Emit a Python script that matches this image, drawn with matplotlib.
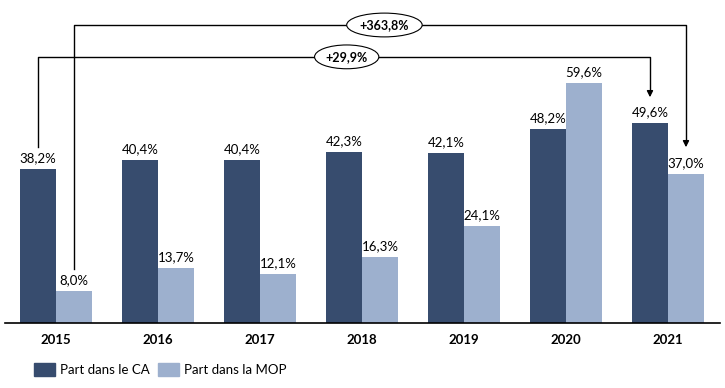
import matplotlib.pyplot as plt
from matplotlib.patches import Ellipse, Patch

annees = ['2015', '2016', '2017', '2018', '2019', '2020', '2021']
part_ca = [38.2, 40.4, 40.4, 42.3, 42.1, 48.2, 49.6]
part_mop = [8.0, 13.7, 12.1, 16.3, 24.1, 59.6, 37.0]

c_ca = '#374c6e'
c_mop = '#9db0ce'
plt.rcParams['font.family'] = ['Lato', 'DejaVu Sans']

fig = plt.figure(figsize=(7.25, 3.88), dpi=100)
ax = fig.add_axes([5 / 725, 65 / 388, 715 / 725, 323 / 388])

w = 0.353
x = list(range(len(annees)))
x_ca = [i - w / 2 for i in x]
x_mop = [i + w / 2 for i in x]
ax.bar(x_ca, part_ca, w, color=c_ca)
ax.bar(x_mop, part_mop, w, color=c_mop)

def fmt(v):
    return f'{v:.1f}%'.replace('.', ',')

for xi, v in zip(x_ca, part_ca):
    ax.text(xi, v + 1.2, fmt(v), ha='center', va='bottom', fontsize=9.5)
for xi, v in zip(x_mop, part_mop):
    ax.text(xi, v + 1.2, fmt(v), ha='center', va='bottom', fontsize=9.5)

ax.set_xlim(-0.5, 6.51)
ax.set_ylim(0, 80.1)
ax.set_xticks(x)
ax.set_xticklabels(annees, fontweight='bold', fontsize=9.5)
ax.tick_params(axis='x', length=0, pad=8)
ax.set_yticks([])
for s in ['top', 'right', 'left']:
    ax.spines[s].set_visible(False)
ax.spines['bottom'].set_linewidth(1.2)

# flèches d'évolution
def fleche(x0, y0, x1, y1, ytop, label, cx, ew):
    ax.plot([x0, x0, x1, x1], [y0, ytop, ytop, y1 + 2.5], color='black', lw=1, zorder=3)
    ax.annotate('', xy=(x1, y1), xytext=(x1, y1 + 3),
                arrowprops=dict(arrowstyle='-|>', color='black', lw=1, mutation_scale=9))
    ax.add_patch(Ellipse((cx, ytop), ew, 5.9, facecolor='white', edgecolor='black', lw=0.8, zorder=4))
    ax.text(cx, ytop, label, ha='center', va='center', fontsize=9, fontweight='bold', zorder=5)

fleche(x_mop[0], part_mop[0] + 5.5, x_mop[6], part_mop[6] + 5.9, 73.9, '+363,8%', 3.22, 0.74)
fleche(x_ca[0], part_ca[0] + 5.5, x_ca[6], part_ca[6] + 5.7, 66.0, '+29,9%', 2.85, 0.63)

handles = [Patch(color=c_ca, label='Part dans le CA'), Patch(color=c_mop, label='Part dans la MOP')]
fig.legend(handles=handles, loc='lower left', bbox_to_anchor=(0.03, 0.0), ncol=2, frameon=False,
           fontsize=9.5, handlelength=1.6, handleheight=1.1, handletextpad=0.4, columnspacing=0.6)

fig.savefig('out.png', dpi=100)
